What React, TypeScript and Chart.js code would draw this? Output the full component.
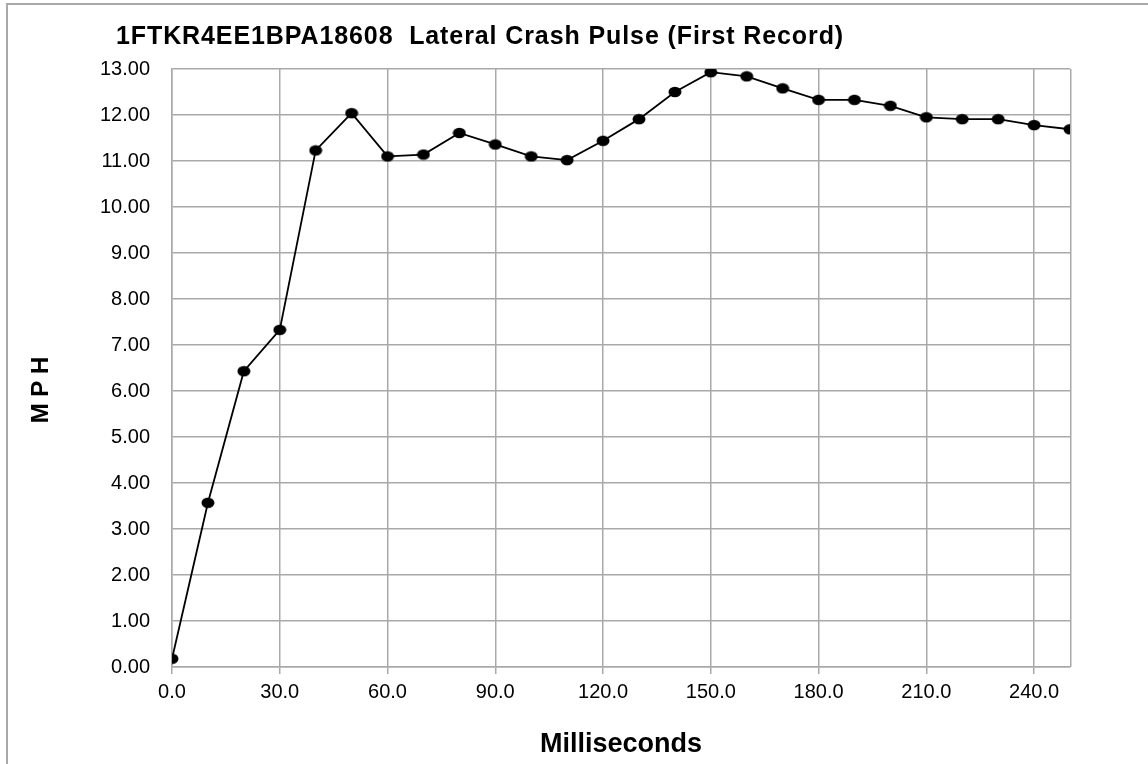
import React, { useEffect, useRef } from "react";
import { Chart, registerables } from "chart.js";

Chart.register(...registerables);

const TITLE = "1FTKR4EE1BPA18608  Lateral Crash Pulse (First Record)";
const X_TITLE = "Milliseconds";
const Y_TITLE = "M P H";

const timeMs: number[] = [0, 10, 20, 30, 40, 50, 60, 70, 80, 90, 100, 110, 120, 130, 140, 150, 160, 170, 180, 190, 200, 210, 220, 230, 240, 250];
const mph: number[] = [0.18, 3.57, 6.43, 7.33, 11.23, 12.04, 11.1, 11.14, 11.61, 11.36, 11.1, 11.02, 11.44, 11.91, 12.5, 12.93, 12.84, 12.58, 12.33, 12.33, 12.2, 11.95, 11.91, 11.91, 11.78, 11.69];

const X_MIN = 0;
const X_MAX = 250;
const X_STEP = 30;
const Y_MIN = 0;
const Y_MAX = 13;
const Y_STEP = 1;

const FONT = '"Liberation Sans", Arial, sans-serif';
const GRID = "#a9a9a9";

function makeMarker(): HTMLCanvasElement {
  const c = document.createElement("canvas");
  c.width = 14;
  c.height = 12;
  const g = c.getContext("2d")!;
  g.fillStyle = "#000";
  g.beginPath();
  g.ellipse(7, 6, 6.5, 5.2, 0, 0, Math.PI * 2);
  g.fill();
  return c;
}

const decor = {
  id: "decor",
  beforeDraw(chart: any) {
    const { ctx } = chart;
    ctx.save();
    ctx.fillStyle = "#ffffff";
    ctx.fillRect(0, 0, chart.width, chart.height);
    ctx.strokeStyle = GRID;
    ctx.lineWidth = 2;
    ctx.strokeRect(7, 4, chart.width + 20, chart.height + 20);
    ctx.restore();
  },
  afterDatasetsDraw(chart: any) {
    const { ctx, chartArea } = chart;
    ctx.save();
    ctx.strokeStyle = GRID;
    ctx.lineWidth = 1.5;
    ctx.beginPath();
    ctx.moveTo(Math.round(chartArea.right) + 0.75, chartArea.top);
    ctx.lineTo(Math.round(chartArea.right) + 0.75, chartArea.bottom);
    ctx.stroke();
    ctx.restore();
  },
  afterDraw(chart: any) {
    const { ctx } = chart;
    ctx.save();
    ctx.fillStyle = "#000";
    ctx.font = `bold 25px ${FONT}`;
    (ctx as any).letterSpacing = "0.9px";
    ctx.textAlign = "left";
    ctx.textBaseline = "alphabetic";
    ctx.fillText(TITLE, 116, 44);
    (ctx as any).letterSpacing = "0px";
    ctx.font = `bold 24px ${FONT}`;
    ctx.translate(41, 390);
    ctx.rotate(-Math.PI / 2);
    ctx.textAlign = "center";
    ctx.textBaseline = "middle";
    ctx.fillText(Y_TITLE, 0, 0);
    ctx.restore();
  },
};

export default function App() {
  const ref = useRef<HTMLCanvasElement | null>(null);
  useEffect(() => {
    document.body.style.margin = "0";
    const canvas = ref.current;
    if (!canvas) return;
    const marker = makeMarker();
    const chart = new Chart(canvas, {
      type: "line",
      data: {
        datasets: [
          {
            data: timeMs.map((t, i) => ({ x: t, y: mph[i] })),
            borderColor: "#000",
            backgroundColor: "#000",
            borderWidth: 1.8,
            pointStyle: marker as any,
            pointRadius: 7,
            pointHoverRadius: 7,
            tension: 0,
          },
        ],
      },
      options: {
        responsive: false,
        animation: false,
        events: [],
        layout: { padding: { left: 8, right: 78, top: 69, bottom: 0 } },
        plugins: {
          legend: { display: false },
          title: { display: false },
          tooltip: { enabled: false },
        },
        scales: {
          x: {
            type: "linear",
            min: X_MIN,
            max: X_MAX,
            afterFit: (s: any) => {
              s.height = 97;
            },
            ticks: {
              stepSize: X_STEP,
              includeBounds: false,
              padding: 6,
              color: "#000",
              font: { family: FONT, size: 20 },
              maxRotation: 0,
              callback: (v: any) => Number(v).toFixed(1),
            },
            grid: { color: GRID, lineWidth: 1.5, tickLength: 7, tickColor: GRID, drawTicks: true },
            border: { color: GRID, width: 1.5 },
            title: {
              display: true,
              text: X_TITLE,
              color: "#000",
              font: { family: FONT, size: 27, weight: "bold" },
              padding: { top: 0, bottom: 3 },
            },
          },
          y: {
            min: Y_MIN,
            max: Y_MAX,
            afterFit: (s: any) => {
              s.width = 164;
            },
            ticks: {
              stepSize: Y_STEP,
              padding: 22,
              color: "#000",
              font: { family: FONT, size: 20 },
              callback: (v: any) => Number(v).toFixed(2),
            },
            grid: { color: GRID, lineWidth: 1.5, drawTicks: false },
            border: { color: GRID, width: 1.5 },
          },
        },
      },
      plugins: [decor],
    });
    return () => chart.destroy();
  }, []);
  return <canvas ref={ref} width={1148} height={764} style={{ display: "block" }} />;
}
